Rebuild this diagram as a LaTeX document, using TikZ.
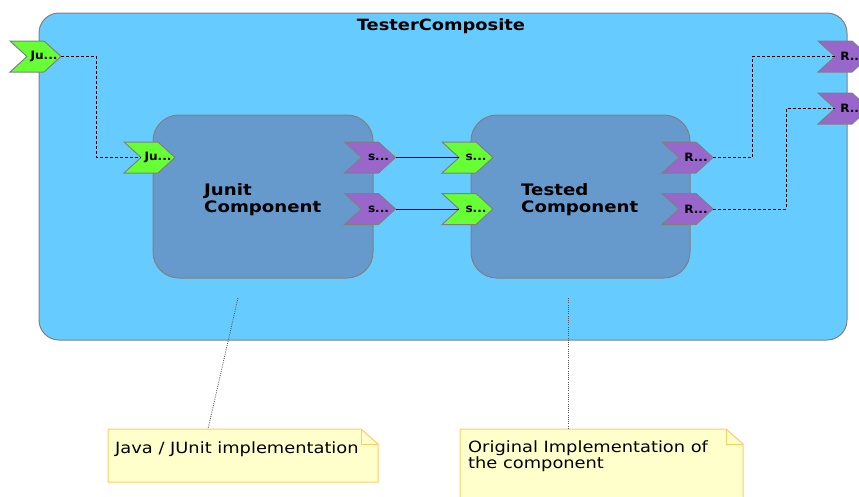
\documentclass[tikz,border=0pt]{standalone}
\usepackage{fontspec}
\usetikzlibrary{calc}
\newfontfamily\dfont[FakeStretch=1.15]{DejaVu Sans}
\newfontfamily\pfont[FakeStretch=1.05]{DejaVu Sans}
\definecolor{outerfill}{HTML}{66CCFF}
\definecolor{compfill}{HTML}{6699CC}
\definecolor{pgreen}{HTML}{66FF33}
\definecolor{ppurple}{HTML}{9966CC}
\definecolor{notefill}{HTML}{FFFFCC}
\definecolor{noteline}{HTML}{FFCC66}
\definecolor{bord}{HTML}{808080}
\definecolor{dotcol}{HTML}{555555}
\newcommand\myport[5]{%
  \filldraw[fill=#4, draw=bord, line width=1pt, line join=miter]
    (#2-25.5,#3-15.5) -- (#2+8.5,#3-15.5) -- (#2+25.5,#3) -- (#2+8.5,#3+15.5)
    -- (#2-25.5,#3+15.5) -- (#2-8.5,#3) -- cycle;
  \node[porttext] (#1) at (#2,#3) {\hspace*{17pt}#5};}
\begin{document}
\begin{tikzpicture}[x=1pt,y=-1pt,
  composite/.style={draw=bord, line width=1pt, fill=outerfill, rounded corners=20pt, inner sep=0pt},
  comp/.style={draw=bord, line width=1pt, fill=compfill, rounded corners=26pt, inner sep=0pt},
  porttext/.style={minimum width=51pt, minimum height=31pt, inner sep=0pt,
    font=\pfont\bfseries\fontsize{11.5}{12}\selectfont},
  dashline/.style={draw=black, line width=0.8pt, dash pattern=on 3pt off 2pt},
  wire/.style={draw=black, line width=0.8pt},
  dotline/.style={draw=dotcol, line width=0.9pt, dash pattern=on 0.9pt off 1.3pt},
  notebg/.style={fill=notefill, draw=noteline, line width=1pt, line join=miter},
  lbl/.style={inner sep=0pt, font=\dfont\fontsize{15.5}{16.5}\selectfont, align=left},
  blbl/.style={inner sep=0pt, font=\dfont\bfseries\fontsize{15.8}{17}\selectfont, align=left}
]
\useasboundingbox (0,0) rectangle (859,496);
\clip (0,0) rectangle (859,496);
\fill[white] (0,0) rectangle (859,496);

% composite and components
\node[composite, minimum width=808pt, minimum height=327pt] (tc) at (443,176.5) {};
\node[blbl, anchor=base, font=\dfont\bfseries\fontsize{15.5}{17}\selectfont] (title) at (441,30.5) {TesterComposite};
\node[comp, minimum width=220pt, minimum height=163pt] (junit) at (263,196.5) {};
\node[comp, minimum width=219pt, minimum height=163pt] (tested) at (580.5,196.5) {};
\node[blbl, anchor=base west] (junitlbl) at (204,212) {Junit\\Component};
\node[blbl, anchor=base west] (testedlbl) at (521,212) {Tested\\Component};

% ports
\myport{ju1}{35.5}{56.5}{pgreen}{Ju...}
\myport{ju2}{149.5}{157.5}{pgreen}{Ju...}
\myport{s1}{370}{157.5}{ppurple}{s...}
\myport{s2}{370}{209}{ppurple}{s...}
\myport{s3}{467.5}{157.5}{pgreen}{s...}
\myport{s4}{467.5}{209}{pgreen}{s...}
\myport{r1}{687.5}{157.5}{ppurple}{R...}
\myport{r2}{687.5}{209}{ppurple}{R...}
\myport{r3}{843.5}{56.5}{ppurple}{R...}
\myport{r4}{843.5}{108.5}{ppurple}{R...}

% connectors (tip = +25.5, notch = -8.5 from port centre)
\draw[dashline] ($(ju1)+(25.5,0)$) -- (96.5,56.5) |- ($(ju2)+(-8.5,0)$);
\draw[wire] ($(s1)+(25.5,0)$) -- ($(s3)+(-8.5,0)$);
\draw[wire] ($(s2)+(25.5,0)$) -- ($(s4)+(-8.5,0)$);
\draw[dashline] ($(r1)+(25.5,0)$) -- (752,157.5) |- ($(r3)+(-8.5,0)$);
\draw[dashline] ($(r2)+(25.5,0)$) -- (786,209) |- ($(r4)+(-8.5,0)$);

% notes
\draw[notebg] (108,429) -- (361,429) -- (378,444) -- (378,482) -- (108,482) -- cycle;
\draw[noteline, line width=1pt] (361,429) -- (361,444) -- (378,444);
\node[lbl, anchor=base west] (n1) at (115,453) {Java / JUnit implementation};
\draw[notebg] (460,429) -- (726,429) -- (743,444) -- (743,510) -- (460,510) -- cycle;
\draw[noteline, line width=1pt] (726,429) -- (726,444) -- (743,444);
\node[lbl, anchor=base west] (n2) at (468,468.5) {Original Implementation of\\the component};

% note links
\coordinate (d1) at (238,298);
\coordinate (n1top) at (208,429);
\coordinate (d2) at (568,298);
\coordinate (n2top) at (568,429);
\draw[dotline] (d1) -- (n1top);
\draw[dotline] (d2) -- (n2top);
\end{tikzpicture}
\end{document}
